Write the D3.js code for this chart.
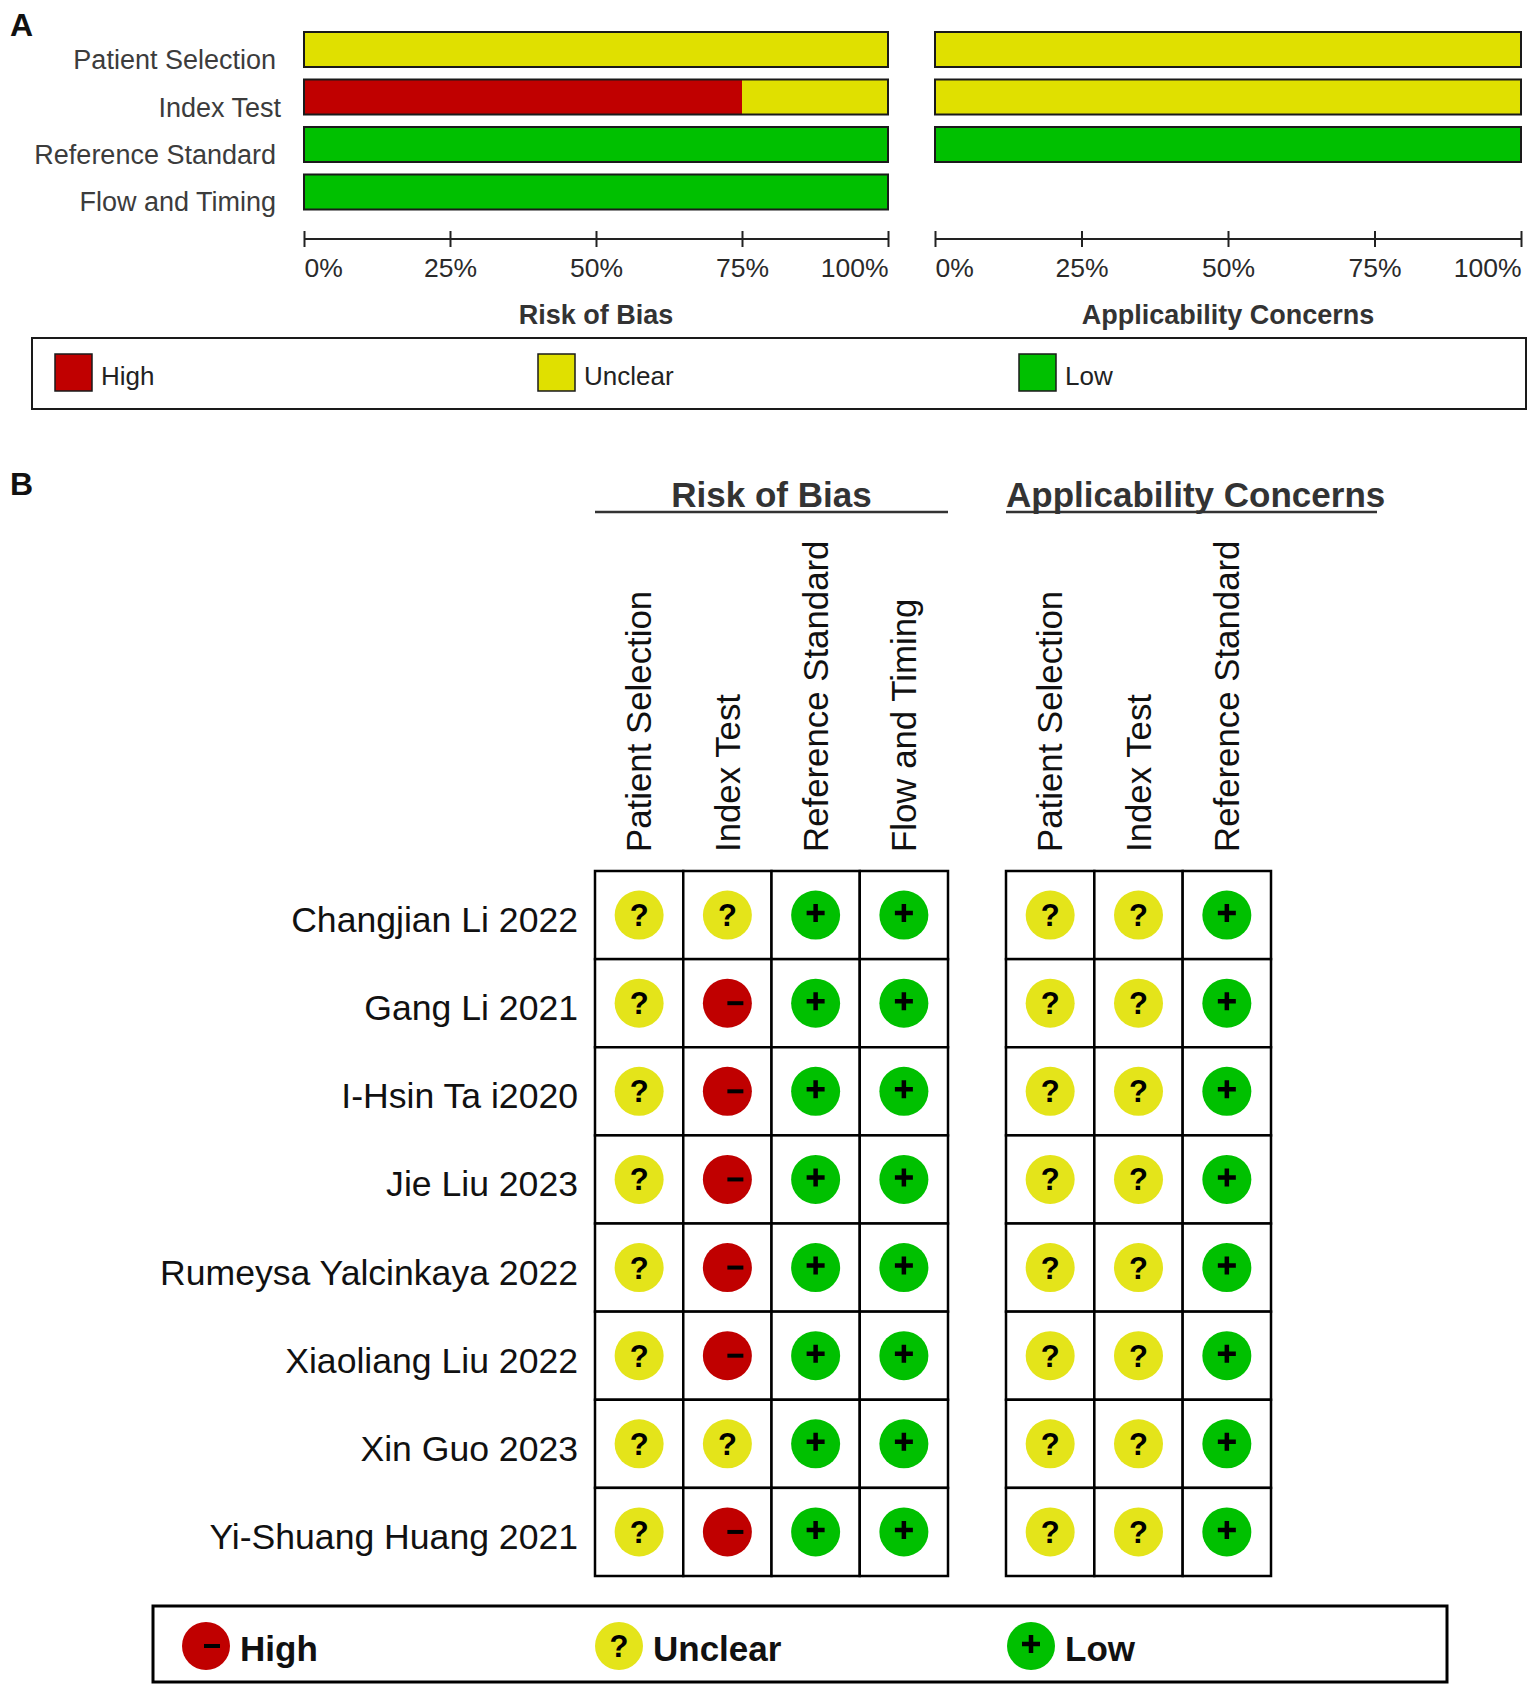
<!DOCTYPE html>
<html>
<head>
<meta charset="utf-8">
<script src="https://cdn.jsdelivr.net/npm/d3@7"></script>
<style>
  body { margin: 0; background: #fff; }
  text { font-family: "Liberation Sans", Arial, sans-serif; }
</style>
</head>
<body>
<div id="chart"></div>
<script>
// ---------- data ----------
const studies = [
  'Changjian Li 2022', 'Gang Li 2021', 'I-Hsin Ta i2020', 'Jie Liu 2023',
  'Rumeysa Yalcinkaya 2022', 'Xiaoliang Liu 2022', 'Xin Guo 2023', 'Yi-Shuang Huang 2021'
];
const biasDomains = ['Patient Selection', 'Index Test', 'Reference Standard', 'Flow and Timing'];
const applicDomains = ['Patient Selection', 'Index Test', 'Reference Standard'];
const levels = ['High', 'Unclear', 'Low'];
// one row per study, one entry per domain
const riskOfBias = [
  ['Unclear', 'Unclear', 'Low', 'Low'],
  ['Unclear', 'High', 'Low', 'Low'],
  ['Unclear', 'High', 'Low', 'Low'],
  ['Unclear', 'High', 'Low', 'Low'],
  ['Unclear', 'High', 'Low', 'Low'],
  ['Unclear', 'High', 'Low', 'Low'],
  ['Unclear', 'Unclear', 'Low', 'Low'],
  ['Unclear', 'High', 'Low', 'Low']
];
const applicability = [
  ['Unclear', 'Unclear', 'Low'],
  ['Unclear', 'Unclear', 'Low'],
  ['Unclear', 'Unclear', 'Low'],
  ['Unclear', 'Unclear', 'Low'],
  ['Unclear', 'Unclear', 'Low'],
  ['Unclear', 'Unclear', 'Low'],
  ['Unclear', 'Unclear', 'Low'],
  ['Unclear', 'Unclear', 'Low']
];
const tickValues = [0, 0.25, 0.5, 0.75, 1];
const tickLabels = ['0%', '25%', '50%', '75%', '100%'];

// ---------- setup ----------
const width = 1535;
const height = 1693;
const barColor = d3.scaleOrdinal(levels, ['#c00000', '#e0e000', '#00c000']);
const dotColor = d3.scaleOrdinal(levels, ['#c00000', '#e4e41a', '#00c000']);

const svg = d3.select('#chart').append('svg')
  .attr('width', width)
  .attr('height', height);

svg.append('rect').attr('width', width).attr('height', height).attr('fill', '#fff');

// panel letters
svg.append('text').attr('x', 10).attr('y', 36).text('A')
  .attr('font-size', 32).attr('font-weight', 'bold').attr('fill', '#111');
svg.append('text').attr('x', 10).attr('y', 495).text('B')
  .attr('font-size', 32).attr('font-weight', 'bold').attr('fill', '#111');

// ---------- panel A : summary bars ----------
function shares(table, domains) {
  return domains.map((dom, j) => {
    const row = { domain: dom };
    levels.forEach((lv) => {
      row[lv] = table.filter((r) => r[j] === lv).length / table.length;
    });
    return row;
  });
}

const yA = d3.scaleBand().domain(biasDomains).range([32, 209.5])
  .paddingInner(0.263).paddingOuter(0);

function summaryPanel(x, table, domains, title) {
  const g = svg.append('g');
  const series = d3.stack().keys(levels)(shares(table, domains));

  g.selectAll('g.seg')
    .data(series)
    .join('g')
    .attr('class', 'seg')
    .attr('fill', (d) => barColor(d.key))
    .selectAll('rect')
    .data((d) => d)
    .join('rect')
    .attr('x', (d) => x(d[0]))
    .attr('y', (d) => yA(d.data.domain))
    .attr('width', (d) => x(d[1]) - x(d[0]))
    .attr('height', yA.bandwidth());

  // outline of each bar
  g.selectAll('rect.outline')
    .data(domains)
    .join('rect')
    .attr('class', 'outline')
    .attr('x', x(0))
    .attr('y', (d) => yA(d))
    .attr('width', x(1) - x(0))
    .attr('height', yA.bandwidth())
    .attr('fill', 'none')
    .attr('stroke', '#1a1a1a')
    .attr('stroke-width', 2);

  // axis: ticks cross the line
  const axis = d3.axisBottom(x)
    .tickValues(tickValues)
    .tickFormat((d, i) => tickLabels[i])
    .tickSize(16)
    .tickSizeOuter(0);
  const ax = g.append('g').attr('transform', 'translate(0,231)').call(axis);
  ax.select('.domain').remove();
  ax.selectAll('.tick line').attr('stroke', '#222').attr('stroke-width', 2);
  ax.append('line')
    .attr('x1', x(0)).attr('x2', x(1))
    .attr('y1', 8).attr('y2', 8)
    .attr('stroke', '#222').attr('stroke-width', 2);
  ax.selectAll('.tick text')
    .attr('y', 46).attr('dy', 0)
    .attr('font-size', 26.5)
    .attr('font-family', '"Liberation Sans", Arial, sans-serif')
    .attr('fill', '#2a2a2a')
    .attr('text-anchor', (d, i) => (i === 0 ? 'start' : i === tickValues.length - 1 ? 'end' : 'middle'));

  g.append('text')
    .attr('x', (x(0) + x(1)) / 2)
    .attr('y', 324)
    .attr('text-anchor', 'middle')
    .attr('font-size', 27)
    .attr('font-weight', 'bold')
    .attr('fill', '#333')
    .text(title);
}

const xLeft = d3.scaleLinear().domain([0, 1]).range([304, 888]);
const xRight = d3.scaleLinear().domain([0, 1]).range([935, 1521]);

summaryPanel(xLeft, riskOfBias, biasDomains, 'Risk of Bias');
summaryPanel(xRight, applicability, applicDomains, 'Applicability Concerns');

// domain labels
svg.append('g').selectAll('text')
  .data(biasDomains)
  .join('text')
  .attr('x', (d) => (d === 'Index Test' ? 281 : 276))
  .attr('y', (d) => yA(d) + yA.bandwidth() / 2 + 19.5)
  .attr('text-anchor', 'end')
  .attr('font-size', 27)
  .attr('fill', '#3c3c3c')
  .text((d) => d);

// legend A
const legA = svg.append('g');
legA.append('rect')
  .attr('x', 32).attr('y', 338).attr('width', 1494).attr('height', 71)
  .attr('fill', 'none').attr('stroke', '#1a1a1a').attr('stroke-width', 2);
const legAX = [55, 538, 1019];
levels.forEach((lv, i) => {
  legA.append('rect')
    .attr('x', legAX[i]).attr('y', 354).attr('width', 37).attr('height', 37)
    .attr('fill', barColor(lv)).attr('stroke', '#1a1a1a').attr('stroke-width', 1.5);
  legA.append('text')
    .attr('x', legAX[i] + 46).attr('y', 385)
    .attr('font-size', 26).attr('fill', '#222')
    .text(lv);
});

// ---------- panel B : traffic light grid ----------
const yB = d3.scaleBand().domain(studies).range([871, 1576]);
const xBias = d3.scaleBand().domain(biasDomains).range([595, 948]);
const xApp = d3.scaleBand().domain(applicDomains).range([1006, 1271]);
const dotR = 24.5;

function glyph(g, lv, dx) {
  if (lv === 'Unclear') {
    g.append('text')
      .attr('text-anchor', 'middle')
      .attr('y', 11)
      .attr('font-size', 31)
      .attr('font-weight', 'bold')
      .attr('fill', '#000')
      .text('?');
  } else if (lv === 'Low') {
    g.append('path')
      .attr('d', 'M-9,-2H9M0,-11V7')
      .attr('stroke', '#000').attr('stroke-width', 4.5);
  } else {
    g.append('path')
      .attr('d', `M${dx - 8},0H${dx + 8}`)
      .attr('stroke', '#000').attr('stroke-width', 4);
  }
}

function gridPanel(x, table, domains, title, lineX) {
  const g = svg.append('g');
  const cells = [];
  studies.forEach((s, i) => {
    domains.forEach((dom, j) => cells.push({ study: s, domain: dom, level: table[i][j] }));
  });

  g.selectAll('rect.cell')
    .data(cells)
    .join('rect')
    .attr('class', 'cell')
    .attr('x', (d) => x(d.domain))
    .attr('y', (d) => yB(d.study))
    .attr('width', x.bandwidth())
    .attr('height', yB.bandwidth())
    .attr('fill', '#fff')
    .attr('stroke', '#000')
    .attr('stroke-width', 2.5);

  const dots = g.selectAll('g.dot')
    .data(cells)
    .join('g')
    .attr('class', 'dot')
    .attr('transform', (d) => `translate(${x(d.domain) + x.bandwidth() / 2},${yB(d.study) + yB.bandwidth() / 2})`);
  dots.append('circle').attr('r', dotR).attr('fill', (d) => dotColor(d.level));
  dots.each(function (d) { glyph(d3.select(this), d.level, 8); });

  // rotated column titles
  g.selectAll('text.col')
    .data(domains)
    .join('text')
    .attr('class', 'col')
    .attr('transform', (d) => `translate(${x(d) + x.bandwidth() / 2},852) rotate(-90)`)
    .attr('dy', '0.35em')
    .attr('font-size', 34.8)
    .attr('fill', '#111')
    .text((d) => d);

  // group header
  const [x0, x1] = x.range();
  const hx = title === 'Risk of Bias' ? (x0 + x1) / 2 : x0;
  g.append('text')
    .attr('x', hx)
    .attr('y', 507)
    .attr('text-anchor', title === 'Risk of Bias' ? 'middle' : 'start')
    .attr('font-size', 35)
    .attr('font-weight', 'bold')
    .attr('fill', '#333')
    .text(title);
  g.append('line')
    .attr('x1', lineX[0]).attr('x2', lineX[1])
    .attr('y1', 512).attr('y2', 512)
    .attr('stroke', '#333').attr('stroke-width', 2.5);
}

gridPanel(xBias, riskOfBias, biasDomains, 'Risk of Bias', [595, 948]);
gridPanel(xApp, applicability, applicDomains, 'Applicability Concerns', [1006, 1377]);

// study labels
svg.append('g').selectAll('text')
  .data(studies)
  .join('text')
  .attr('x', 578)
  .attr('y', (d) => yB(d) + yB.bandwidth() / 2 + 17)
  .attr('text-anchor', 'end')
  .attr('font-size', 35.6)
  .attr('fill', '#111')
  .text((d) => d);

// legend B
const legB = svg.append('g');
legB.append('rect')
  .attr('x', 153).attr('y', 1606).attr('width', 1294).attr('height', 76)
  .attr('fill', 'none').attr('stroke', '#000').attr('stroke-width', 3);
const legBX = [206, 619, 1031];
levels.forEach((lv, i) => {
  const item = legB.append('g').attr('transform', `translate(${legBX[i]},1646)`);
  item.append('circle').attr('r', 24).attr('fill', dotColor(lv));
  glyph(item, lv, 6);
  item.append('text')
    .attr('x', 34).attr('y', 15)
    .attr('font-size', 35).attr('font-weight', 'bold').attr('fill', '#111')
    .text(lv);
});
</script>
</body>
</html>
